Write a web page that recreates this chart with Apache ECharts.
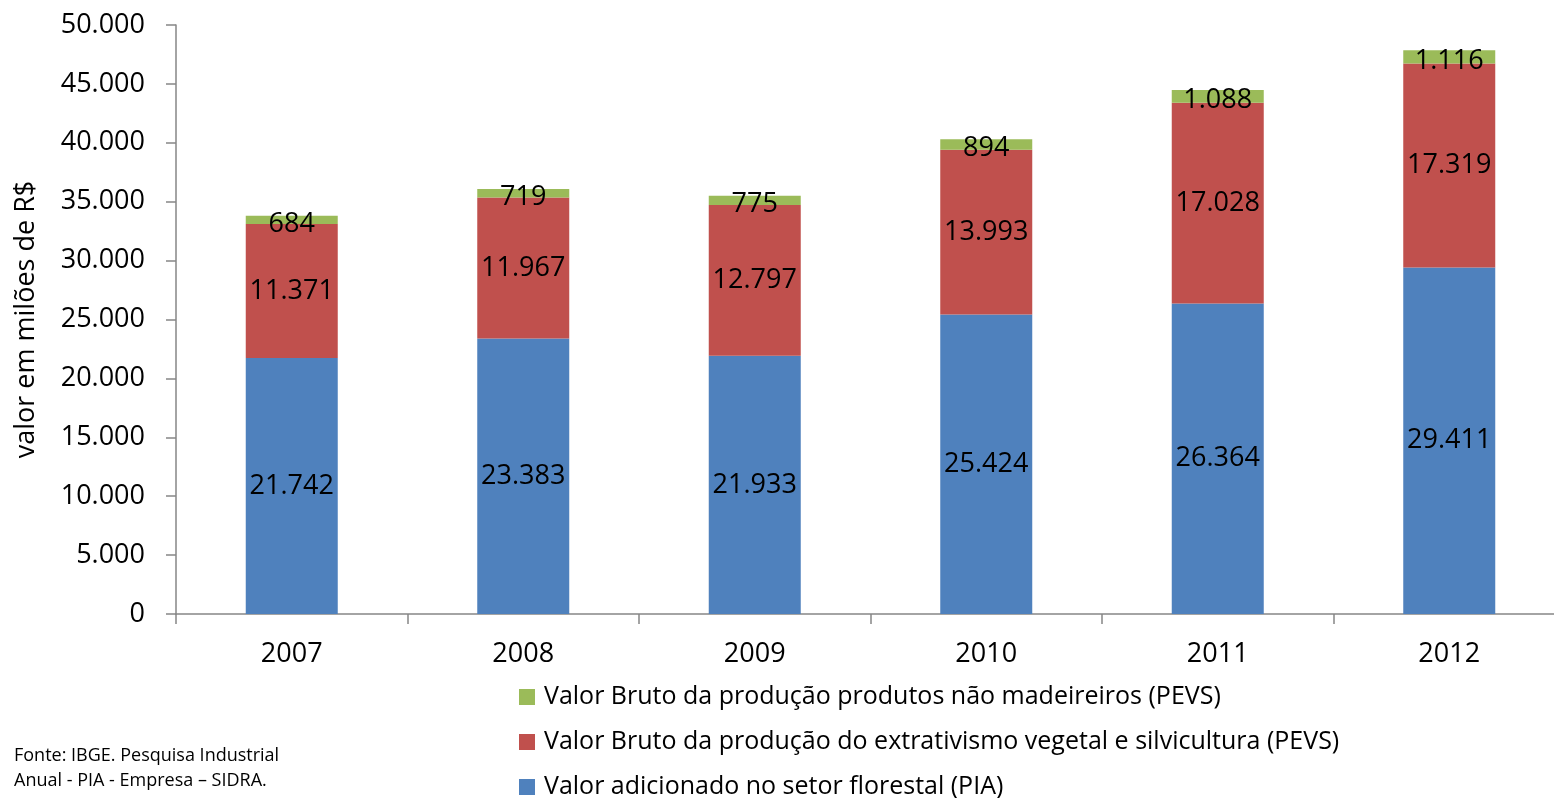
<!DOCTYPE html>
<html>
<head>
<meta charset="utf-8">
<script src="https://cdn.jsdelivr.net/npm/echarts@6/dist/echarts.min.js"></script>
<style>
  html, body { margin: 0; padding: 0; background: #fff; }
  #chart { width: 1554px; height: 798px; }
</style>
</head>
<body>
<div id="chart"></div>
<script>
// chart data
const years = ['2007', '2008', '2009', '2010', '2011', '2012'];
const valorPIA = [21742, 23383, 21933, 25424, 26364, 29411];
const valorExtrativismo = [11371, 11967, 12797, 13993, 17028, 17319];
const valorNaoMadeireiros = [684, 719, 775, 894, 1088, 1116];

const nameBlue = 'Valor adicionado no setor florestal (PIA)';
const nameRed = 'Valor Bruto da produção do extrativismo vegetal e silvicultura (PEVS)';
const nameGreen = 'Valor Bruto da produção produtos não madeireiros (PEVS)';

const font = '"Open Sans", Lato, sans-serif';

// 21742 -> "21.742"
function fmt(v) {
  return String(v).replace(/\B(?=(\d{3})+(?!\d))/g, '.');
}

const labelStyle = {
  show: true,
  position: 'inside',
  color: '#000',
  fontSize: 27,
  fontFamily: font,
  formatter: p => fmt(p.value)
};

const chart = echarts.init(document.getElementById('chart'));

chart.setOption({
  animation: false,
  textStyle: { fontFamily: font },
  grid: {
    left: 176,
    top: 25,
    width: 1389,
    height: 589,
    containLabel: false,
    outerBoundsMode: 'none'
  },
  legend: {
    orient: 'vertical',
    left: 514,
    top: 679,
    height: 200,
    icon: 'rect',
    itemWidth: 16,
    itemHeight: 16,
    itemGap: 19,
    data: [nameGreen, nameRed, nameBlue],
    textStyle: { color: '#000', fontSize: 25, lineHeight: 26, fontFamily: font, padding: [0, 0, 0, 4] }
  },
  xAxis: {
    type: 'category',
    data: years,
    axisLine: { lineStyle: { color: '#868686', width: 1.5 } },
    axisTick: { show: true, length: 10, alignWithLabel: false, lineStyle: { color: '#868686', width: 1.5 } },
    axisLabel: { color: '#000', fontSize: 27, fontFamily: font, margin: 27 }
  },
  yAxis: {
    type: 'value',
    min: 0,
    max: 50000,
    interval: 5000,
    name: 'valor em milões de R$',
    nameLocation: 'middle',
    nameGap: 136,
    nameTextStyle: { color: '#000', fontSize: 27, fontFamily: font },
    axisLine: { show: true, lineStyle: { color: '#868686', width: 1.5 } },
    axisTick: { show: true, length: 10, lineStyle: { color: '#868686', width: 1.5 } },
    splitLine: { show: false },
    axisLabel: { color: '#000', fontSize: 27, fontFamily: font, margin: 31, formatter: v => fmt(v) }
  },
  series: [
    {
      name: nameBlue,
      type: 'bar',
      stack: 'total',
      barWidth: 92,
      data: valorPIA,
      itemStyle: { color: '#4F81BD' },
      label: labelStyle
    },
    {
      name: nameRed,
      type: 'bar',
      stack: 'total',
      barWidth: 92,
      data: valorExtrativismo,
      itemStyle: { color: '#C0504D' },
      label: labelStyle
    },
    {
      name: nameGreen,
      type: 'bar',
      stack: 'total',
      barWidth: 92,
      data: valorNaoMadeireiros,
      itemStyle: { color: '#9BBB59' },
      label: Object.assign({}, labelStyle, { offset: [0, 4] })
    }
  ],
  graphic: [
    {
      type: 'text',
      left: 14,
      top: 743,
      style: {
        text: 'Fonte: IBGE. Pesquisa Industrial\nAnual - PIA - Empresa – SIDRA.',
        fill: '#000',
        font: '18px ' + font,
        lineHeight: 25
      }
    }
  ]
});
</script>
</body>
</html>
